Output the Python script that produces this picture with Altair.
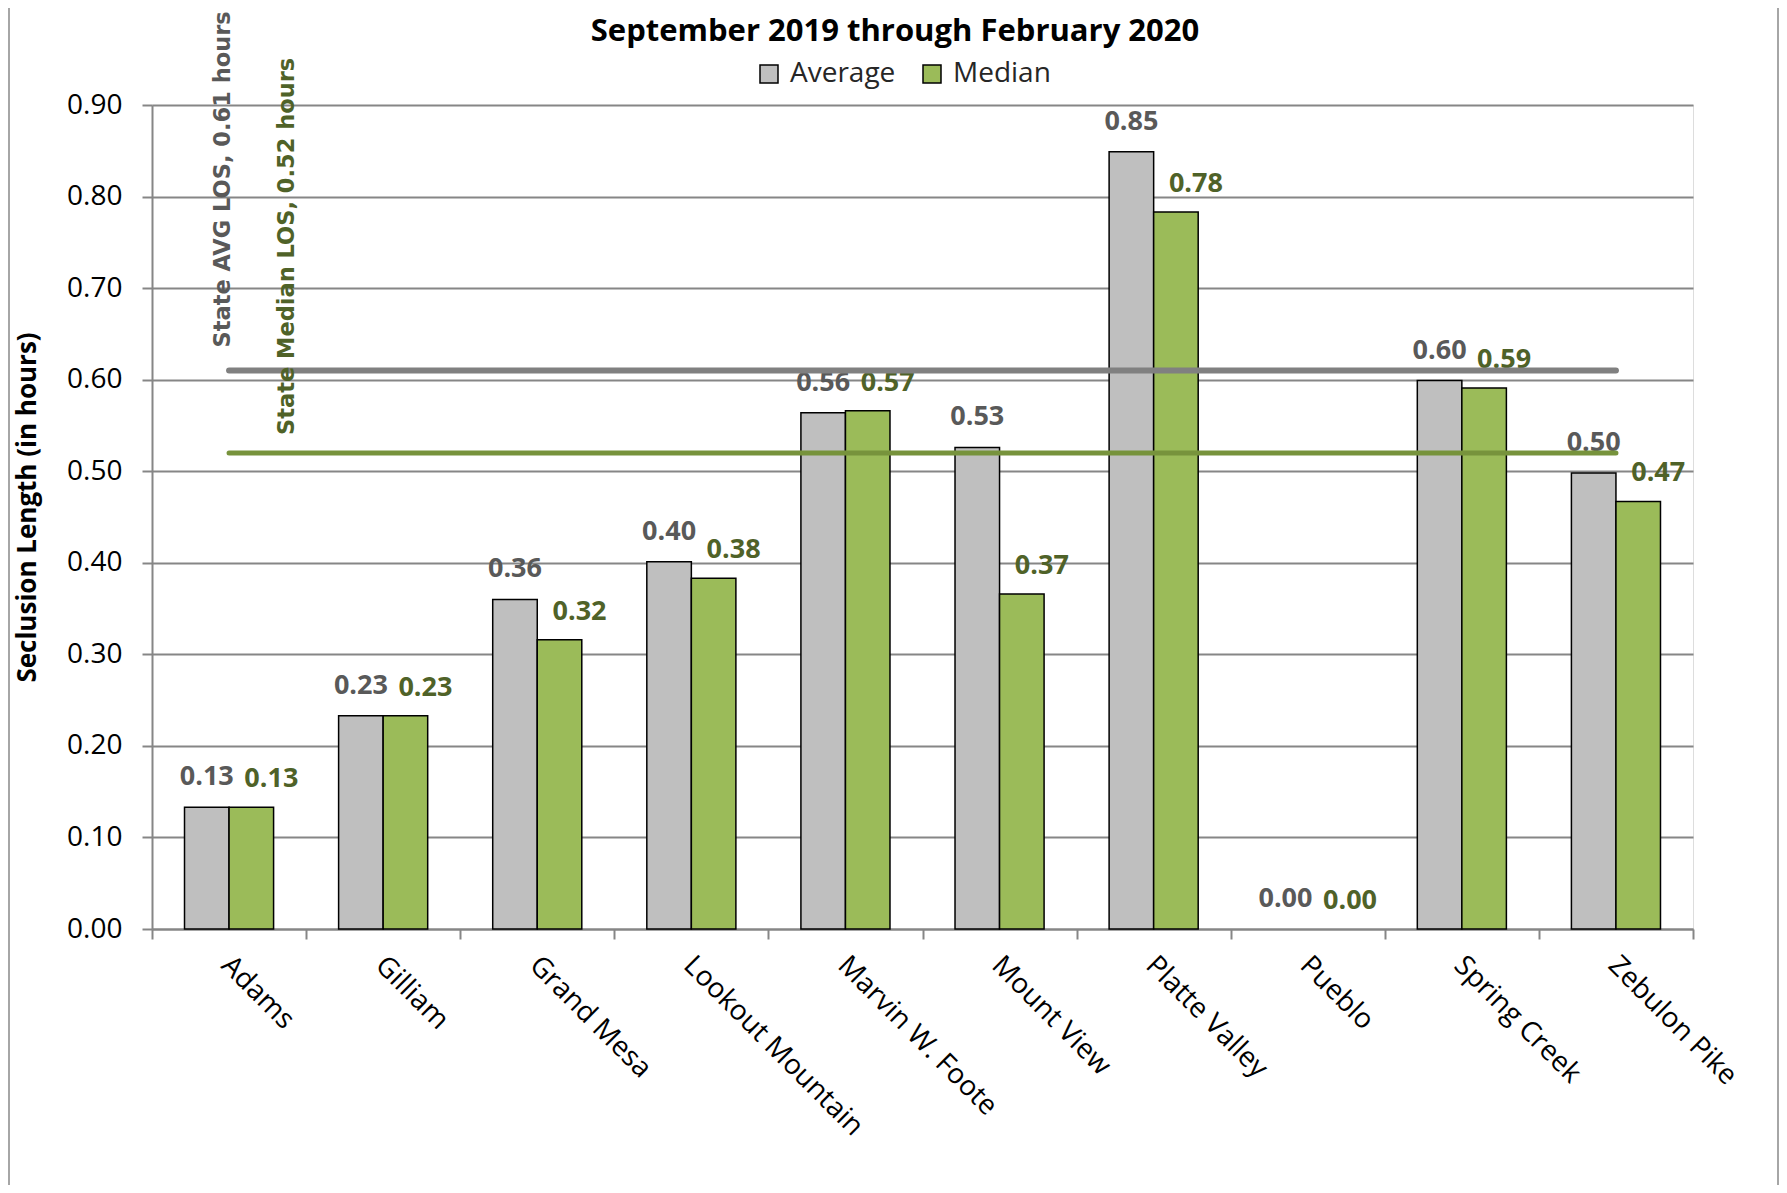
import altair as alt
import pandas as pd

categories = ["Adams", "Gilliam", "Grand Mesa", "Lookout Mountain", "Marvin W. Foote",
              "Mount View", "Platte Valley", "Pueblo", "Spring Creek", "Zebulon Pike"]
average = [0.133, 0.233, 0.360, 0.401, 0.564, 0.526, 0.849, 0.0, 0.599, 0.498]
median = [0.133, 0.233, 0.316, 0.383, 0.566, 0.366, 0.783, 0.0, 0.591, 0.467]
series = ["Average", "Median"]
series_colors = ["#bfbfbf", "#9bbb59"]
label_colors = ["#595959", "#4f6228"]
state_avg = 0.61
state_median = 0.52
state_avg_label = "State AVG LOS, 0.61 hours"
state_median_label = "State Median LOS, 0.52 hours"
y_ticks = [0.0, 0.1, 0.2, 0.3, 0.4, 0.5, 0.6, 0.7, 0.8, 0.9]
title_text = "September 2019 through February 2020"
y_title = "Seclusion Length (in hours)"

rows = []
for c, a, m in zip(categories, average, median):
    rows.append({"category": c, "series": "Average", "value": a})
    rows.append({"category": c, "series": "Median", "value": m})
bars_df = pd.DataFrame(rows)

ref_df = pd.DataFrame({
    "category": categories * 2,
    "ref": ["avg"] * len(categories) + ["med"] * len(categories),
    "value": [state_avg] * len(categories) + [state_median] * len(categories),
})

FONT = "Open Sans"

x_enc = alt.X("category:N", sort=categories,
              scale=alt.Scale(paddingInner=0, paddingOuter=0),
              axis=alt.Axis(title=None, labelAngle=45, labelAlign="left", labelBaseline="top",
                            labelFontSize=28, labelFont=FONT, labelColor="#000000",
                            labelPadding=12, labelOffset=6, labelLimit=0,
                            tickBand="extent", tickSize=10,
                            tickColor="#868686", tickWidth=2, domainColor="#868686",
                            domainWidth=2, grid=False))
y_enc = alt.Y("value:Q", scale=alt.Scale(domain=[0, 0.9], nice=False),
              axis=alt.Axis(title=y_title, values=y_ticks, format=".2f",
                            labelFontSize=28, labelFont=FONT, labelColor="#000000",
                            labelPadding=20, tickSize=10, tickColor="#868686", tickWidth=2,
                            domainColor="#868686", domainWidth=2,
                            gridColor="#868686", gridWidth=2,
                            titleFont=FONT, titleFontSize=26, titleFontWeight="bold",
                            titleColor="#000000", titleX=-125, titleY=402,
                            titleBaseline="middle", titleAngle=270))
xoff = alt.XOffset("series:N", sort=series,
                   scale=alt.Scale(paddingInner=0, paddingOuter=0.73))

bars = alt.Chart(bars_df).mark_bar(stroke="black", strokeWidth=1.5).encode(
    x=x_enc,
    y=y_enc,
    xOffset=xoff,
    color=alt.Color("series:N", sort=series,
                    scale=alt.Scale(domain=series, range=series_colors),
                    legend=alt.Legend(title=None, orient="none", direction="horizontal",
                                      legendX=603, legendY=-45, symbolType="square",
                                      symbolSize=324, symbolStrokeColor="black",
                                      symbolStrokeWidth=1.5, labelFontSize=28,
                                      labelFont=FONT, labelColor="#262626",
                                      labelOffset=7, columnPadding=22, padding=0)),
    strokeOpacity=alt.condition(alt.datum.value > 0, alt.value(1), alt.value(0)),
)

avg_labels = alt.Chart(bars_df).transform_filter(
    alt.datum.series == "Average"
).mark_text(font=FONT, fontSize=27, fontWeight="bold", color=label_colors[0],
            baseline="middle", dy=-30, dx=0).encode(
    x=alt.X("category:N", sort=categories),
    y=alt.Y("value:Q"),
    xOffset=alt.XOffset("series:N", sort=series),
    text=alt.Text("value:Q", format=".2f"),
)

med_labels = alt.Chart(bars_df).transform_filter(
    alt.datum.series == "Median"
).mark_text(font=FONT, fontSize=27, fontWeight="bold", color=label_colors[1],
            baseline="middle", dy=-28, dx=20).encode(
    x=alt.X("category:N", sort=categories),
    y=alt.Y("value:Q"),
    xOffset=alt.XOffset("series:N", sort=series),
    text=alt.Text("value:Q", format=".2f"),
)

avg_line = alt.Chart(ref_df).transform_filter(alt.datum.ref == "avg").mark_line(
    color="#808080", strokeWidth=6, strokeCap="round").encode(
    x=alt.X("category:N", sort=categories),
    y=alt.Y("value:Q"),
)
med_line = alt.Chart(ref_df).transform_filter(alt.datum.ref == "med").mark_line(
    color="#77933c", strokeWidth=5, strokeCap="round").encode(
    x=alt.X("category:N", sort=categories),
    y=alt.Y("value:Q"),
)

ref_first = pd.DataFrame({
    "category": [categories[0], categories[0]],
    "value": [state_avg, state_median],
    "label": [state_avg_label, state_median_label],
    "ref": ["avg", "med"],
})
avg_text = alt.Chart(ref_first).transform_filter(alt.datum.ref == "avg").mark_text(
    font="DejaVu Sans", fontWeight="bold", fontSize=22.5, color="#595959",
    angle=270, align="left", baseline="middle", dx=23, dy=-6).encode(
    x=alt.X("category:N", sort=categories),
    y=alt.Y("value:Q"),
    text="label:N",
)
med_text = alt.Chart(ref_first).transform_filter(alt.datum.ref == "med").mark_text(
    font="DejaVu Sans", fontWeight="bold", fontSize=22.5, color="#4f6228",
    angle=270, align="left", baseline="middle", dx=18, dy=58).encode(
    x=alt.X("category:N", sort=categories),
    y=alt.Y("value:Q"),
    text="label:N",
)

title_df = pd.DataFrame({"title": [title_text]})
title_mark = alt.Chart(title_df).mark_text(
    font=FONT, fontSize=31, fontWeight="bold", color="#000000",
    align="center", baseline="alphabetic").encode(
    x=alt.value(743), y=alt.value(-64), text="title:N")

frame_df = pd.DataFrame({"edge": ["left", "right"]})
frame_left = alt.Chart(frame_df).transform_filter(alt.datum.edge == "left").mark_rule(
    color="#a6a6a6", strokeWidth=2).encode(
    x=alt.value(-143), y=alt.value(-97), y2=alt.value(1080))
frame_right = alt.Chart(frame_df).transform_filter(alt.datum.edge == "right").mark_rule(
    color="#a6a6a6", strokeWidth=2).encode(
    x=alt.value(1626), y=alt.value(-97), y2=alt.value(1080))

chart = alt.layer(bars, avg_labels, med_labels, avg_line, med_line, avg_text, med_text,
                  title_mark, frame_left, frame_right).properties(
    width=1541,
    height=824,
    autosize=alt.AutoSizeParams(type="none"),
    padding={"left": 144, "top": 97, "right": 86, "bottom": 256},
).configure_view(stroke=None).configure(background="white")

chart.save("out.html", embed_options={"renderer": "svg", "actions": False})
